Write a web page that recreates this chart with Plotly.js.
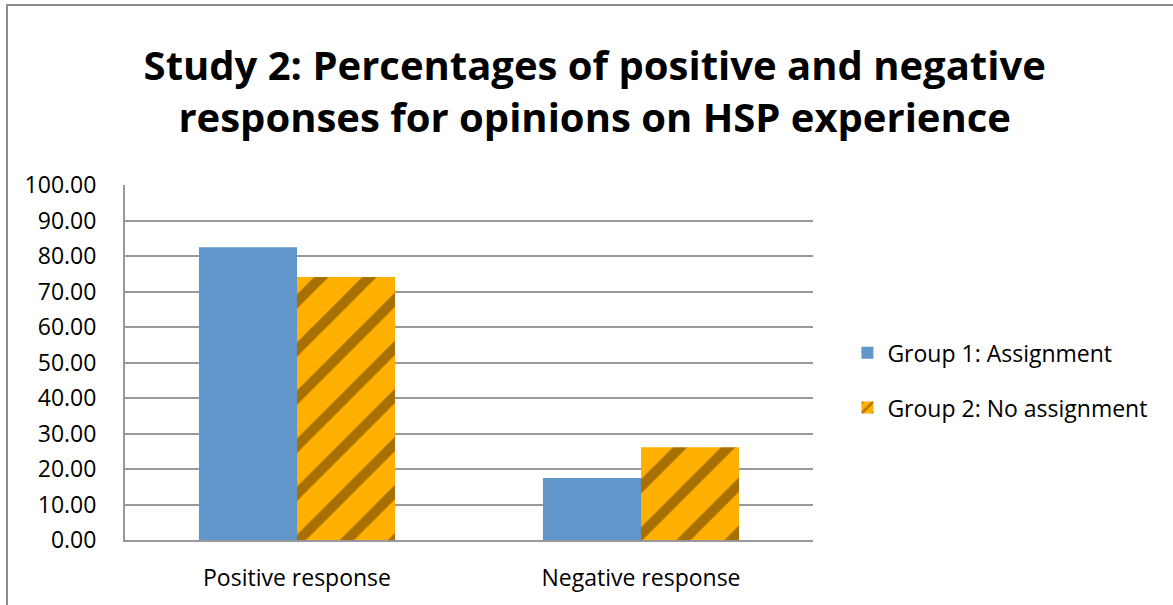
<!DOCTYPE html>
<html>
<head>
<meta charset="utf-8">
<script src="https://cdn.plot.ly/plotly-3.0.1.min.js"></script>
<style>
html,body{margin:0;padding:0;background:#fff;overflow:hidden;}
#chart{position:absolute;left:0;top:0;width:1173px;height:605px;}
#frame{position:absolute;left:6px;top:4px;width:1300px;height:800px;border:2px solid #8c8c8c;pointer-events:none;}
</style>
</head>
<body>
<div id="chart"></div>
<div id="frame"></div>
<script>
var categories = ["Positive response", "Negative response"];
var group1 = [82.5, 17.5];
var group2 = [74.1, 26.1];
var seriesNames = ["Group 1: Assignment", "Group 2: No assignment"];
var tickValues = [0, 10, 20, 30, 40, 50, 60, 70, 80, 90, 100];

var font = "'Open Sans', Lato, sans-serif";

var traces = [
  {
    type: "bar", name: seriesNames[0], x: categories, y: group1,
    legendgroup: "g1",
    marker: {color: "#6096C9", line: {width: 0}},
    hoverinfo: "y"
  },
  {
    type: "bar", name: seriesNames[1], x: categories, y: group2,
    legendgroup: "g2",
    marker: {
      color: "#F2A900",
      line: {width: 0},
      pattern: {shape: "/", bgcolor: "#FFB000", fgcolor: "#A87000", size: 34, solidity: 0.3, fillmode: "replace"}
    },
    hoverinfo: "y"
  }
];

var layout = {
  width: 1173, height: 605,
  margin: {l: 125, r: 360, t: 185, b: 65},
  paper_bgcolor: "rgba(0,0,0,0)",
  plot_bgcolor: "#fff",
  barmode: "group",
  bargap: 0.43,
  bargroupgap: 0,
  title: {
    text: "<b>Study 2: Percentages of positive and negative<br>responses for opinions on HSP experience</b>",
    font: {family: font, size: 40, color: "#000"},
    x: 0.507, xanchor: "center", y: 0.867, yanchor: "middle"
  },
  xaxis: {
    type: "category",
    showgrid: false, showline: true, linecolor: "#999", linewidth: 2,
    ticks: "", tickfont: {family: font, size: 23, color: "#000"},
    ticklabelstandoff: 16
  },
  yaxis: {
    range: [0, 100], tickvals: tickValues,
    ticktext: tickValues.map(function(v){return v.toFixed(2);}),
    showgrid: true, gridcolor: "#999", gridwidth: 2,
    showline: true, linecolor: "#999", linewidth: 2,
    zeroline: false, ticks: "",
    tickfont: {family: font, size: 23, color: "#000"},
    ticklabelstandoff: 22
  },
  legend: {
    x: 1.05, xanchor: "left", y: 0.45, yanchor: "middle",
    font: {family: font, size: 23, color: "#000"},
    itemwidth: 30, tracegroupgap: 22, traceorder: "grouped",
    bgcolor: "rgba(0,0,0,0)"
  },
  showlegend: true
};

Plotly.newPlot("chart", traces, layout, {displayModeBar: false, staticPlot: true});
</script>
</body>
</html>
